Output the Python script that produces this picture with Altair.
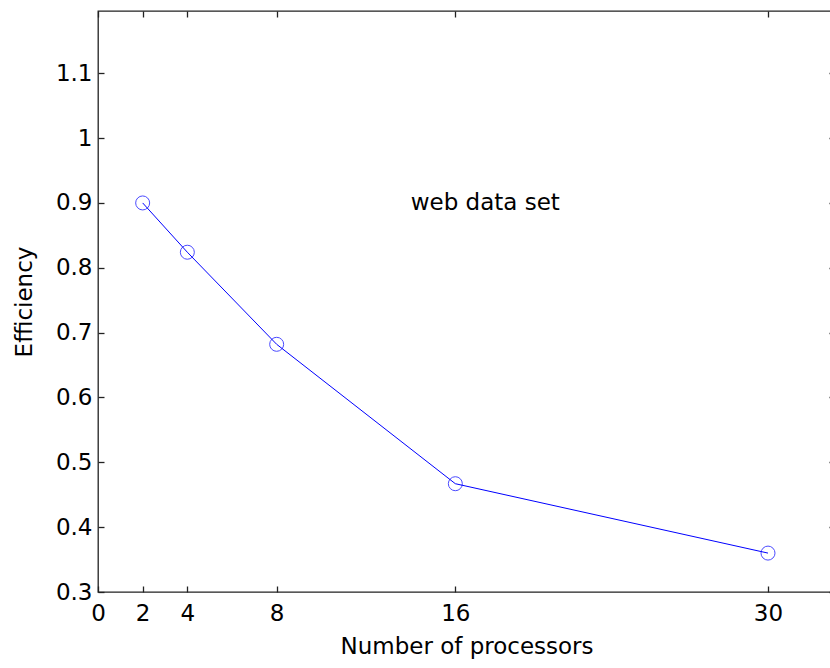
import altair as alt
import pandas as pd

# ---- data ----
processors = [2, 4, 8, 16, 30]
efficiency = [0.900, 0.824, 0.682, 0.467, 0.360]

x_tick_values = [0, 2, 4, 8, 16, 30]
y_tick_values = [0.3, 0.4, 0.5, 0.6, 0.7, 0.8, 0.9, 1.0, 1.1]

annot_x = [14]
annot_y = [0.9]
annot_text = ["web data set"]

x_title = "Number of processors"
y_title = "Efficiency"

df = pd.DataFrame({"p": processors, "e": efficiency})
df_text = pd.DataFrame({"tx": annot_x, "ty": annot_y, "t": annot_text})

FONT = "DejaVu Sans"
FS = 23
BLUE = "#0000ff"

xs = alt.Scale(domain=[0, 33], nice=False, zero=False)
ys = alt.Scale(domain=[0.3, 1.196], nice=False, zero=False)

common_axis = dict(domain=False, grid=False, tickSize=6, offset=-6,
                   tickColor="#222", tickWidth=1.3, labelFlush=False)

line = alt.Chart(df).mark_line(color=BLUE, strokeWidth=1).encode(
    x=alt.X("p:Q", scale=xs,
            axis=alt.Axis(orient="bottom", values=x_tick_values, title=x_title,
                          labelPadding=10, titlePadding=10, format="d",
                          **common_axis)),
    y=alt.Y("e:Q", scale=ys,
            axis=alt.Axis(orient="left", values=y_tick_values, title=y_title,
                          labelPadding=6, titlePadding=19, format="~g",
                          **common_axis)),
)

points = alt.Chart(df).mark_point(shape="circle", filled=False, size=196,
                                  color=BLUE, strokeWidth=1).encode(
    x=alt.X("p:Q", scale=xs, axis=None),
    y=alt.Y("e:Q", scale=ys, axis=None),
)

label = alt.Chart(df_text).mark_text(align="left", baseline="middle",
                                     font=FONT, fontSize=FS, color="#000").encode(
    x=alt.X("tx:Q", scale=xs,
            axis=alt.Axis(orient="top", values=x_tick_values, labels=False,
                          title=None, **common_axis)),
    y=alt.Y("ty:Q", scale=ys,
            axis=alt.Axis(orient="right", values=y_tick_values, labels=False,
                          title=None, **common_axis)),
    text="t:N",
)

chart = alt.layer(line, points, label).properties(
    width=737,
    height=581,
    autosize=alt.AutoSizeParams(type="none"),
    padding={"left": 98, "top": 11, "right": -5, "bottom": 76},
    background="#ffffff",
).configure_view(
    stroke="#222", strokeWidth=1.3
).configure_axis(
    labelFont=FONT, titleFont=FONT, labelFontSize=FS, titleFontSize=FS,
    labelColor="#000", titleColor="#000", titleFontWeight="normal",
)

chart.save("out.html", embed_options={"renderer": "svg", "actions": False})
